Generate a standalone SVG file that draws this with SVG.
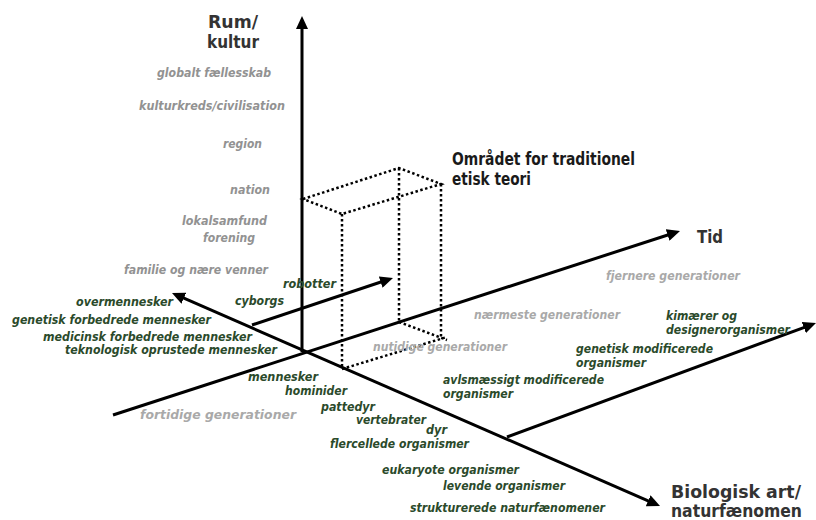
<svg xmlns="http://www.w3.org/2000/svg" width="816" height="520" viewBox="0 0 816 520">
<style>
text{font-family:"DejaVu Sans Condensed","DejaVu Sans",Verdana,sans-serif;font-weight:bold}
.sp{font-size:12px;font-style:italic;fill:#929292}
.gen{font-size:13px;font-style:italic;fill:#a9a9a9}
.bio{font-size:12px;font-style:italic;fill:#2b4a2b}
.ax{font-size:17px;fill:#333}
.ax2{font-size:17px;fill:#1a1a1a}
.axis{stroke:#000;stroke-width:3;fill:none}
.dot{stroke:#000;stroke-width:2.5;stroke-dasharray:2.5 2.5;fill:none}
</style>
<defs>
<marker id="ah" markerUnits="userSpaceOnUse" markerWidth="13" markerHeight="12" refX="5" refY="6" orient="auto-start-reverse" viewBox="0 0 13 12">
<path d="M0,0 L13,6 L0,12 z" fill="#000"/>
</marker>
</defs>
<g id="connectors">
<line class="axis" x1="302" y1="352" x2="302" y2="24" marker-end="url(#ah)"/>
<line class="axis" x1="113" y1="415" x2="672.4" y2="233.5" marker-end="url(#ah)"/>
<line class="axis" x1="179.3" y1="296.2" x2="652.7" y2="502.8" marker-start="url(#ah)" marker-end="url(#ah)"/>
<line class="axis" x1="252" y1="325" x2="385.4" y2="280.5" marker-end="url(#ah)"/>
<line class="axis" x1="507" y1="437" x2="808.5" y2="325.8" marker-end="url(#ah)"/>
</g>
<g id="box">
<path class="dot" d="M303,199 L399,168 L441,184 L342,214 Z"/>
<path class="dot" d="M342,214 L342,369 M399,168 L399,322 M441,184 L441,338"/>
<path class="dot" d="M399,322 L447,340 M342,369 L447,337"/>
</g>
<g id="axis-labels">
<text class="ax" x="208" y="28" textLength="50" lengthAdjust="spacingAndGlyphs">Rum/</text>
<text class="ax" x="207" y="48" textLength="52" lengthAdjust="spacingAndGlyphs">kultur</text>
<text class="ax" x="697" y="243" textLength="26" lengthAdjust="spacingAndGlyphs">Tid</text>
<text class="ax" x="671" y="498" textLength="130" lengthAdjust="spacingAndGlyphs">Biologisk art/</text>
<text class="ax" x="671" y="517" textLength="131" lengthAdjust="spacingAndGlyphs">naturfænomen</text>
<text class="ax2" x="452" y="165" textLength="183" lengthAdjust="spacingAndGlyphs">Området for traditionel</text>
<text class="ax2" x="452" y="185" textLength="79" lengthAdjust="spacingAndGlyphs">etisk teori</text>
</g>
<g id="space-labels">
<text class="sp" x="157" y="77" textLength="114" lengthAdjust="spacingAndGlyphs">globalt fællesskab</text>
<text class="sp" x="139" y="110" textLength="146" lengthAdjust="spacingAndGlyphs">kulturkreds/civilisation</text>
<text class="sp" x="223" y="148" textLength="39" lengthAdjust="spacingAndGlyphs">region</text>
<text class="sp" x="230" y="194" textLength="40" lengthAdjust="spacingAndGlyphs">nation</text>
<text class="sp" x="182" y="225" textLength="85" lengthAdjust="spacingAndGlyphs">lokalsamfund</text>
<text class="sp" x="203" y="242" textLength="52" lengthAdjust="spacingAndGlyphs">forening</text>
<text class="sp" x="124" y="274" textLength="144" lengthAdjust="spacingAndGlyphs">familie og nære venner</text>
</g>
<g id="time-labels">
<text class="gen" x="140" y="419" textLength="156" lengthAdjust="spacingAndGlyphs">fortidige generationer</text>
<text class="gen" x="373" y="351" textLength="134" lengthAdjust="spacingAndGlyphs">nutidige generationer</text>
<text class="gen" x="474" y="319" textLength="146" lengthAdjust="spacingAndGlyphs">nærmeste generationer</text>
<text class="gen" x="606" y="280" textLength="134" lengthAdjust="spacingAndGlyphs">fjernere generationer</text>
</g>
<g id="species-labels">
<text class="bio" x="76" y="306" textLength="97" lengthAdjust="spacingAndGlyphs">overmennesker</text>
<text class="bio" x="235" y="305" textLength="49" lengthAdjust="spacingAndGlyphs">cyborgs</text>
<text class="bio" x="283" y="288" textLength="53" lengthAdjust="spacingAndGlyphs">robotter</text>
<text class="bio" x="12" y="324" textLength="199" lengthAdjust="spacingAndGlyphs">genetisk forbedrede mennesker</text>
<text class="bio" x="43" y="341" textLength="209" lengthAdjust="spacingAndGlyphs">medicinsk forbedrede mennesker</text>
<text class="bio" x="65" y="354" textLength="212" lengthAdjust="spacingAndGlyphs">teknologisk oprustede mennesker</text>
<text class="bio" x="248" y="381" textLength="70" lengthAdjust="spacingAndGlyphs">mennesker</text>
<text class="bio" x="285" y="395" textLength="62" lengthAdjust="spacingAndGlyphs">hominider</text>
<text class="bio" x="321" y="411" textLength="54" lengthAdjust="spacingAndGlyphs">pattedyr</text>
<text class="bio" x="356" y="424" textLength="70" lengthAdjust="spacingAndGlyphs">vertebrater</text>
<text class="bio" x="426" y="434" textLength="21" lengthAdjust="spacingAndGlyphs">dyr</text>
<text class="bio" x="330" y="448" textLength="139" lengthAdjust="spacingAndGlyphs">flercellede organismer</text>
<text class="bio" x="382" y="474" textLength="137" lengthAdjust="spacingAndGlyphs">eukaryote organismer</text>
<text class="bio" x="443" y="490" textLength="122" lengthAdjust="spacingAndGlyphs">levende organismer</text>
<text class="bio" x="410" y="512" textLength="195" lengthAdjust="spacingAndGlyphs">strukturerede naturfænomener</text>
<text class="bio" x="443" y="384" textLength="161" lengthAdjust="spacingAndGlyphs">avlsmæssigt modificerede</text>
<text class="bio" x="443" y="398" textLength="70" lengthAdjust="spacingAndGlyphs">organismer</text>
<text class="bio" x="576" y="353" textLength="137" lengthAdjust="spacingAndGlyphs">genetisk modificerede</text>
<text class="bio" x="576" y="367" textLength="70" lengthAdjust="spacingAndGlyphs">organismer</text>
<text class="bio" x="666" y="320" textLength="71" lengthAdjust="spacingAndGlyphs">kimærer og</text>
<text class="bio" x="666" y="334" textLength="124" lengthAdjust="spacingAndGlyphs">designerorganismer</text>
</g>
</svg>
